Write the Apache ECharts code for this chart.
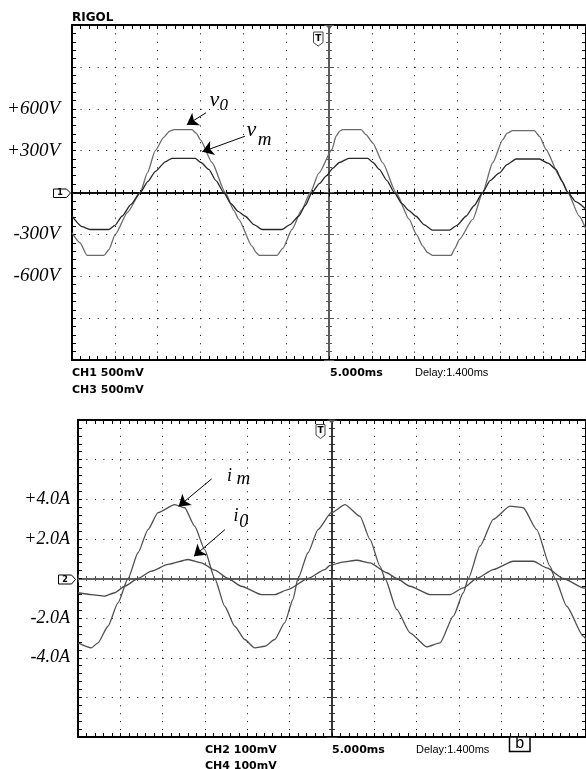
<!DOCTYPE html>
<html><head><meta charset="utf-8">
<script src="https://cdn.jsdelivr.net/npm/echarts@6/dist/echarts.min.js"></script>
<style>html,body{margin:0;padding:0;background:#fff;}#c{width:586px;height:769px;}</style>
</head><body><div id="c"></div>
<script>
// ---- data (time in ms, trigger at 0) ----
const v0Points = [[-30.00,-290],[-29.07,-360],[-28.25,-450],[-26.27,-450],[-25.7,-410],[-24.95,-300],[-23.5,-140],[-22.03,0],[-21.2,140],[-20.28,300],[-19.3,395],[-18.6,440],[-18.09,450],[-15.99,450],[-15.5,425],[-15.02,379],[-13.66,215],[-12.11,0],[-11.09,-130],[-10.54,-193],[-8.99,-384],[-8.5,-430],[-8.17,-450],[-6.07,-450],[-5.4,-400],[-4.32,-265],[-3.2,-125],[-2.18,0],[-1.17,140],[0.35,308],[0.82,403],[1.25,440],[1.60,451],[3.74,451],[4.32,415],[5.10,356],[6.27,212],[7.82,0],[9.37,-193],[10.2,-300],[10.94,-384],[11.5,-430],[12.11,-451],[14.24,-451],[14.7,-400],[15.21,-337],[16.78,-193],[17.94,0],[19.11,213],[20.28,379],[20.8,425],[21.45,444],[23.97,444],[24.6,400],[25.33,308],[26.89,117],[27.87,0],[29.22,-170],[30.00,-265]];
const vmPoints = [[-30.00,-170],[-28.83,-245],[-27.90,-265],[-25.72,-265],[-24.98,-235],[-24.17,-170],[-23.11,-85],[-22.03,0],[-21.13,80],[-20.28,150],[-19.11,220],[-18.33,245],[-15.61,245],[-14.94,215],[-14.04,165],[-13.19,85],[-12.29,0],[-11.44,-80],[-10.62,-135],[-9.77,-170],[-8.76,-230],[-7.82,-265],[-5.49,-265],[-4.55,-230],[-3.54,-170],[-2.80,-95],[-1.98,0],[-1.1,65],[-0.35,117],[0.47,175],[1.20,215],[2.33,245],[4.52,245],[5.14,215],[5.87,165],[6.77,85],[7.62,0],[8.52,-80],[9.34,-130],[10.16,-170],[11.09,-230],[12.11,-270],[14.04,-270],[14.94,-235],[15.99,-170],[16.93,-95],[17.94,0],[18.80,85],[19.88,140],[20.78,200],[21.83,240],[24.55,240],[25.57,210],[26.50,165],[27.2,80],[27.90,0],[28.80,-65],[30.00,-120]];
const imPoints = [[-30.00,-3.25],[-28.43,-3.50],[-27.64,-3.25],[-26.46,-2.41],[-25.28,-1.23],[-24.09,0],[-22.91,1.30],[-21.73,2.47],[-20.55,3.32],[-18.58,3.73],[-17.40,3.57],[-16.22,2.64],[-15.04,1.46],[-13.85,0],[-12.67,-1.40],[-11.49,-2.41],[-10.31,-3.08],[-9.13,-3.50],[-7.95,-3.42],[-6.77,-3.08],[-5.59,-2.24],[-4.61,-1.06],[-4.02,0],[-2.83,1.30],[-1.65,2.47],[-0.08,3.32],[1.54,3.73],[3.31,3.14],[4.49,1.97],[5.67,0.62],[6.26,0],[7.64,-1.56],[9.21,-2.74],[11.18,-3.45],[12.76,-3.25],[14.33,-1.90],[15.51,-0.72],[16.10,0],[17.48,1.63],[19.05,2.98],[21.02,3.65],[22.59,3.57],[24.18,2.47],[25.75,0.62],[26.34,0],[27.72,-1.40],[29.68,-2.91],[30.00,-3.08]];
const i0Points = [[-30.00,-0.72],[-28.43,-0.81],[-26.85,-0.89],[-25.67,-0.72],[-24.49,-0.39],[-22.91,0],[-21.34,0.37],[-19.37,0.71],[-17.01,0.96],[-15.44,0.79],[-13.85,0.42],[-12.28,0],[-10.71,-0.39],[-8.35,-0.81],[-6.77,-0.81],[-5.20,-0.56],[-2.83,0],[-0.86,0.45],[-0.24,0.66],[1.2,0.83],[2.92,0.92],[4.49,0.79],[6.46,0.29],[7.64,0],[9.21,-0.39],[11.57,-0.81],[13.94,-0.81],[15.51,-0.47],[17.09,0],[19.05,0.45],[21.41,0.87],[23.78,0.87],[25.36,0.54],[27.33,0],[29.68,-0.47],[30.00,-0.50]];

const voltTickValues = [600, 300, -300, -600];
const voltTickLabels = ['+600V', '+300V', '-300V', '-600V'];
const ampTickValues = [4, 2, -2, -4];
const ampTickLabels = ['+4.0A', '+2.0A', '-2.0A', '-4.0A'];

// annotation arrows (data coordinates: [ms, value])
const v0Arrow = [[-14.36, 571], [-16.60, 485]];
const vmArrow = [[-9.81, 403], [-14.79, 292]];
const imArrow = [[-14.21, 5.03], [-18.12, 3.64]];
const i0Arrow = [[-12.64, 2.47], [-16.31, 1.12]];

// ---- chart ----
const chart = echarts.init(document.getElementById('c'), null, {renderer: 'canvas'});

const panels = [
  {grid: {left: 72, top: 25, right: 0, height: 335}, yMin: -1200, yMax: 1200, yInt: 300,
   ticks: voltTickValues, labels: voltTickLabels, labelSize: 19, labelMargin: 12,
   hDash: [1, 7.567], vDash: [1, 7.375], zeroH: '#000', zeroV: '#5a5a5a'},
  {grid: {left: 78, top: 420, right: 0, height: 317}, yMin: -8, yMax: 8, yInt: 2,
   ticks: ampTickValues, labels: ampTickLabels, labelSize: 18, labelMargin: 8,
   hDash: [1, 7.467], vDash: [1, 6.925], zeroH: '#555', zeroV: '#333'}
];

const grids = [], xAxes = [], yAxes = [];
panels.forEach((p, i) => {
  grids.push(Object.assign({outerBoundsMode: 'none', containLabel: false}, p.grid));
  const base = 4 * i;
  const tickStyle = {color: '#000', width: 1};
  const common = {gridIndex: i, type: 'value', axisLabel: {show: false}, splitLine: {show: false},
                  axisPointer: {show: false}};
  // x axes
  xAxes.push(Object.assign({}, common, {min: -30, max: 30, interval: 5, position: 'bottom',
    axisLine: {onZero: false, lineStyle: {color: '#000', width: 2}},
    axisTick: {inside: true, length: 4, lineStyle: tickStyle},
    minorTick: {show: true, splitNumber: 5, length: 4, lineStyle: tickStyle},
    splitLine: {show: true, lineStyle: {color: '#000', width: 1, type: p.vDash}}}));
  xAxes.push(Object.assign({}, common, {min: -30, max: 30, interval: 5, position: 'top',
    axisLine: {onZero: false, lineStyle: {color: '#000', width: 2}},
    axisTick: {inside: true, length: 4, lineStyle: tickStyle},
    minorTick: {show: true, splitNumber: 5, length: 4, lineStyle: tickStyle}}));
  ['bottom', 'top'].forEach(pos => {
    xAxes.push(Object.assign({}, common, {min: -30, max: 30, interval: 5, position: pos,
      axisLine: {onZero: true, onZeroAxisIndex: base, lineStyle: {color: p.zeroH, width: 1.5}},
      axisTick: {inside: true, length: 4, lineStyle: {color: p.zeroH, width: 1}},
      minorTick: {show: true, splitNumber: 5, length: 2.5, lineStyle: {color: p.zeroH, width: 1}}}));
  });
  // y axes
  yAxes.push(Object.assign({}, common, {min: p.yMin, max: p.yMax, interval: p.yInt, position: 'left',
    axisLine: {onZero: false, lineStyle: {color: '#000', width: 2}},
    axisTick: {inside: true, length: 4, lineStyle: tickStyle},
    minorTick: {show: true, splitNumber: 5, length: 4, lineStyle: tickStyle},
    splitLine: {show: true, lineStyle: {color: '#000', width: 1, type: p.hDash}},
    axisLabel: {show: true, margin: p.labelMargin, color: '#000', fontFamily: 'Liberation Serif',
      fontStyle: 'italic', fontSize: p.labelSize,
      formatter: v => { const k = p.ticks.indexOf(v); return k >= 0 ? p.labels[k] : ''; }}}));
  yAxes.push(Object.assign({}, common, {min: p.yMin, max: p.yMax, interval: p.yInt, position: 'right',
    axisLine: {onZero: false, lineStyle: {color: '#000', width: 2}},
    axisTick: {inside: true, length: 4, lineStyle: tickStyle},
    minorTick: {show: true, splitNumber: 5, length: 4, lineStyle: tickStyle}}));
  ['left', 'right'].forEach(pos => {
    yAxes.push(Object.assign({}, common, {min: p.yMin, max: p.yMax, interval: p.yInt, position: pos,
      axisLine: {onZero: true, onZeroAxisIndex: base, lineStyle: {color: p.zeroV, width: 1.8}},
      axisTick: {inside: true, length: 5, lineStyle: {color: p.zeroV, width: 1}},
      minorTick: {show: true, splitNumber: 5, length: 3, lineStyle: {color: p.zeroV, width: 1}}}));
  });
});

function arrowMark(path) {
  return {silent: true, animation: false, symbol: ['none', 'arrow'], symbolSize: 11,
    label: {show: false}, emphasis: {disabled: true},
    lineStyle: {color: '#000', width: 1, type: 'solid'},
    data: [[{coord: path[0]}, {coord: path[1]}]]};
}
function trace(name, data, xi, yi, color, arrow) {
  return {name: name, type: 'line', xAxisIndex: xi, yAxisIndex: yi, data: data,
    showSymbol: false, symbol: 'none', smooth: 0.2, smoothMonotone: 'x', silent: true,
    animation: false, z: 3, lineStyle: {color: color, width: 1.3},
    markLine: arrowMark(arrow)};
}

function txt(x, y, text, font, align, extra) {
  return Object.assign({type: 'text', silent: true, z: 50,
    style: {x: x, y: y, text: text, font: font, fill: '#000', textFill: '#000',
      align: align || 'left', textAlign: align || 'left',
      verticalAlign: 'middle', textVerticalAlign: 'middle'}}, extra || {});
}
const bold = 'bold 11px "DejaVu Sans"';
const plain = '11px "Liberation Sans"';
const graphic = [
  txt(72, 18, 'RIGOL', 'bold 12px "DejaVu Sans"'),
  txt(72, 373, 'CH1 500mV', bold),
  txt(72, 390.5, 'CH3 500mV', bold),
  txt(330, 373, '5.000ms', bold),
  txt(415, 373, 'Delay:1.400ms', plain),
  txt(205, 750, 'CH2 100mV', bold),
  txt(205, 766, 'CH4 100mV', bold),
  txt(332, 750, '5.000ms', bold),
  txt(416, 750, 'Delay:1.400ms', plain),
  {type: 'rect', silent: true, z: 50, shape: {x: 509.5, y: 737, width: 20.5, height: 14.5},
   style: {fill: '#fff', stroke: '#000', lineWidth: 1.5}},
  txt(519.8, 744, 'b', '16px "Liberation Sans"', 'center'),
  // channel markers
  {type: 'polygon', silent: true, z: 50, shape: {points: [[53.5, 189], [66.5, 189], [70.5, 193], [66.5, 197.5], [53.5, 197.5]]},
   style: {fill: '#fff', stroke: '#000', lineWidth: 1}},
  txt(60, 193.3, '1', 'bold 8px "DejaVu Sans"', 'center'),
  {type: 'polygon', silent: true, z: 50, shape: {points: [[58.5, 575], [71.5, 575], [75.5, 579.5], [71.5, 584], [58.5, 584]]},
   style: {fill: '#fff', stroke: '#000', lineWidth: 1}},
  txt(65, 579.6, '2', 'bold 8px "DejaVu Sans"', 'center'),
  // trigger markers
  {type: 'polygon', silent: true, z: 50, shape: {points: [[313.5, 32], [323, 32], [323, 42.5], [318.2, 46], [313.5, 42.5]]},
   style: {fill: '#fff', stroke: '#444', lineWidth: 1}},
  txt(318.3, 38.5, 'T', 'bold 9px "DejaVu Sans"', 'center'),
  {type: 'polygon', silent: true, z: 50, shape: {points: [[316, 424.5], [325, 424.5], [325, 435], [320.5, 438.5], [316, 435]]},
   style: {fill: '#fff', stroke: '#444', lineWidth: 1}},
  txt(320.5, 431, 'T', 'bold 9px "DejaVu Sans"', 'center'),
  {type: 'polygon', silent: true, z: 50, shape: {points: [[325.5, 25], [333, 25], [329.3, 29.5]]}, style: {fill: '#555'}},
  {type: 'polygon', silent: true, z: 50, shape: {points: [[328, 419.5], [335.5, 419.5], [331.8, 424]]}, style: {fill: '#555'}},
  // annotation labels
  txt(214.5, 100, 'v', 'italic 22px "Liberation Serif"', 'center'),
  txt(223.8, 105.5, '0', 'italic 17px "Liberation Serif"', 'center'),
  txt(251.3, 130, 'v', 'italic 22px "Liberation Serif"', 'center'),
  txt(264.5, 139.5, 'm', 'italic 19px "Liberation Serif"', 'center'),
  txt(229.5, 476, 'i', 'italic 18px "Liberation Serif"', 'center'),
  txt(243.3, 478.5, 'm', 'italic 19px "Liberation Serif"', 'center'),
  txt(236, 516.7, 'i', 'italic 18px "Liberation Serif"', 'center'),
  txt(243.8, 522.5, '0', 'italic 18px "Liberation Serif"', 'center')
];

chart.setOption({
  animation: false,
  backgroundColor: '#fff',
  grid: grids,
  xAxis: xAxes,
  yAxis: yAxes,
  series: [
    trace('v0', v0Points, 0, 0, '#6a6a6a', v0Arrow),
    trace('vm', vmPoints, 0, 0, '#262626', vmArrow),
    trace('im', imPoints, 4, 4, '#4f4f4f', imArrow),
    trace('i0', i0Points, 4, 4, '#4a4a4a', i0Arrow)
  ],
  graphic: graphic
});
</script></body></html>
